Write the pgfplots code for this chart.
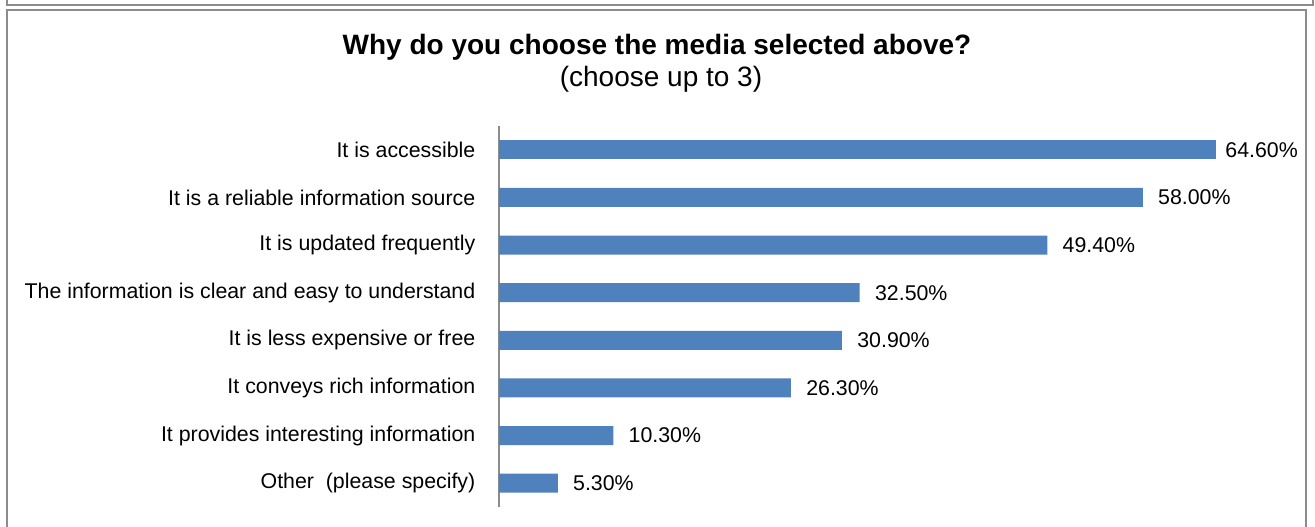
\documentclass[border=0pt]{standalone}
\usepackage{pgfplots}
\pgfplotsset{compat=1.18}
\usepackage{fontspec}
\setmainfont{Liberation Sans}
\definecolor{barblue}{HTML}{4F81BD}
\definecolor{framegray}{HTML}{8C8C8C}
\begin{document}
\begin{tikzpicture}[x=0.75pt,y=-0.75pt]
% bounding box in pixel units (y down)
\path[use as bounding box] (0,0) rectangle (1315,526);
\fill[white] (0,0) rectangle (1315,526);
% frames
\draw[framegray,line width=1.5pt] (7,-2) -- (7,5) -- (1313,5) -- (1313,-2);
\draw[framegray,line width=1.5pt] (7,530) -- (7,10) -- (1306,10) -- (1306,530);
% titles
\node[font=\fontsize{21}{24}\selectfont\bfseries] at (657,47) {Why do you choose the media selected above?};
\node[font=\fontsize{21}{24}\selectfont] at (661,79) {(choose up to 3)};
\begin{axis}[
  at={(374.25pt,-380.25pt)}, anchor=south west,
  scale only axis,
  width=599.4pt, height=285.75pt,
  xbar, bar width=14.25pt, bar shift=0pt,
  xmin=0, xmax=72,
  ymin=-0.5, ymax=7.5,
  y dir=reverse,
  axis x line=none,
  axis y line*=left,
  y axis line style={framegray, line width=0.9pt, -},
  ytick={0,1,2,3,4,5,6,7},
  yticklabels={It is accessible,It is a reliable information source,It is updated frequently,The information is clear and easy to understand,It is less expensive or free,It conveys rich information,It provides interesting information,Other\ \ (please specify)},
  major tick length=0pt,
  yticklabel style={font=\fontsize{16}{18}\selectfont, xshift=-14.25pt},
  /pgf/number format/assume math mode=true,
  nodes near coords={\pgfmathprintnumber[fixed,fixed zerofill,precision=2,assume math mode=true]{\pgfplotspointmeta}\%},
  point meta=explicit,
  nodes near coords style={font=\fontsize{16}{18}\selectfont, anchor=west},
  clip=false,
]
\addplot[fill=barblue, draw=none, every node near coord/.append style={xshift=3.5pt}] coordinates {
(64.6,0) [64.6]
};
\addplot[fill=barblue, draw=none, every node near coord/.append style={xshift=8pt}] coordinates {
(58.0,1) [58.0]
(49.4,2) [49.4]
(32.5,3) [32.5]
(30.9,4) [30.9]
(26.3,5) [26.3]
(10.3,6) [10.3]
(5.3,7) [5.3]
};
\end{axis}
\end{tikzpicture}
\end{document}
